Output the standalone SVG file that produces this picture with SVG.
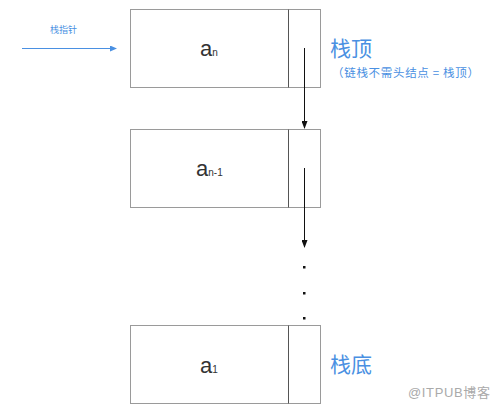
<svg xmlns="http://www.w3.org/2000/svg" width="500" height="409" viewBox="0 0 500 409">
<style>
.box{fill:#fff;stroke:#9a9a9a;stroke-width:1}
.div{stroke:#555;stroke-width:1}
.a{font-family:"Liberation Sans",Arial,sans-serif;font-size:22px;fill:#333}
.sub{font-size:10px}
.blue{font-family:"Noto Sans CJK SC",sans-serif;fill:#4a90e2}
.link{stroke:#111;stroke-width:1;fill:none}
</style>
<defs>
<marker id="ah" markerWidth="8" markerHeight="6" refX="7" refY="3" orient="auto" markerUnits="userSpaceOnUse"><path d="M0,0 L8,3 L0,6 z" fill="#111"/></marker>
<marker id="ahb" markerWidth="7" markerHeight="6" refX="6" refY="3" orient="auto" markerUnits="userSpaceOnUse"><path d="M0,0 L7,3 L0,6 z" fill="#4a90e2"/></marker>
</defs>
<rect width="500" height="409" fill="#fff"/>
<g id="node-an">
<rect class="box" x="130.5" y="9.5" width="190" height="78"/>
<line class="div" x1="288.5" y1="9.5" x2="288.5" y2="87.5"/>
<text class="a" x="200" y="56">a<tspan class="sub">n</tspan></text>
</g>
<g id="node-an1">
<rect class="box" x="130.5" y="129.5" width="190" height="78"/>
<line class="div" x1="288.5" y1="129.5" x2="288.5" y2="207.5"/>
<text class="a" x="196" y="176">a<tspan class="sub">n-1</tspan></text>
</g>
<g id="node-a1">
<rect class="box" x="130.5" y="325.5" width="190" height="78"/>
<line class="div" x1="288.5" y1="325.5" x2="288.5" y2="403.5"/>
<text class="a" x="200" y="373">a<tspan class="sub">1</tspan></text>
</g>
<g id="connectors">
<line class="link" x1="304.5" y1="48" x2="304.5" y2="128" marker-end="url(#ah)"/>
<line class="link" x1="304.5" y1="168" x2="304.5" y2="247" marker-end="url(#ah)"/>
<line x1="22" y1="48.5" x2="116" y2="48.5" stroke="#4a90e2" stroke-width="1" marker-end="url(#ahb)"/>
</g>
<g id="dots" fill="#111">
<rect x="303" y="266" width="2.5" height="2.5"/>
<rect x="303" y="292" width="2.5" height="2.5"/>
<rect x="303" y="317" width="2.5" height="2.5"/>
</g>
<g id="labels">
<text class="blue" x="50" y="33" font-size="9">栈指针</text>
<text class="blue" x="330" y="56" font-size="21">栈顶</text>
<text class="blue" x="332" y="77" font-size="11.5" textLength="147" lengthAdjust="spacing">（链栈不需头结点 = 栈顶）</text>
<text class="blue" x="330" y="372" font-size="21">栈底</text>
<text x="408" y="397" font-family="Liberation Sans,'Noto Sans CJK SC',sans-serif" font-size="13" fill="#aaa" textLength="82" lengthAdjust="spacing">@ITPUB博客</text>
</g>
</svg>
